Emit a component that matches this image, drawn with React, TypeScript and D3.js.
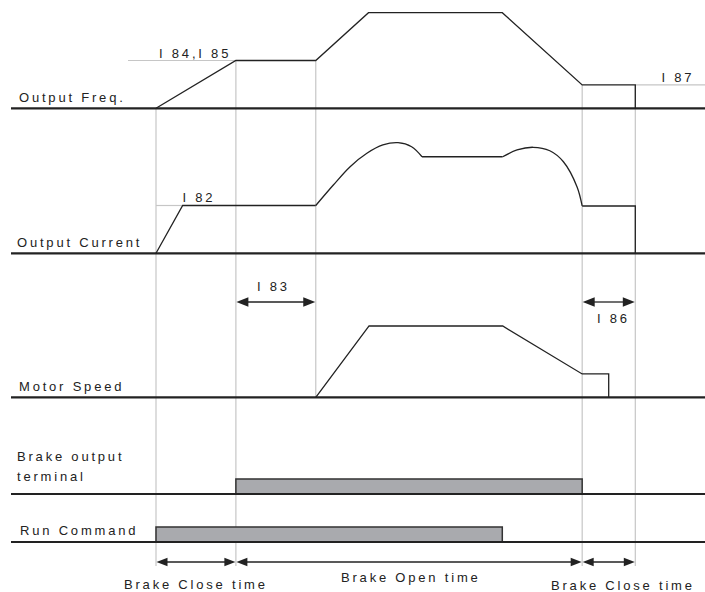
import { useEffect } from 'react';
import * as d3 from 'd3';

// time axis: 0 = run command on, 1 = brake open, 2 = accel start ... 6 = end
const guideTimes = [0, 1, 2, 5.335, 6];

// Output frequency (level: 100 = top speed)
const freqT = [0, 1, 2, 2.66, 4.335, 5.335, 6, 6];
const freqL = [0, 50, 50, 100, 100, 24.4, 24.4, 0];

// Output current, straight pieces and the two humps
const curT1 = [0, 0.334, 2.0];
const curL1 = [0, 50, 50];
const curHumpT = [2.0, 2.22, 2.43, 2.64, 2.84, 3.03, 3.2, 3.33];
const curHumpL = [50, 71.4, 90.6, 104.6, 113.3, 115.7, 111.5, 101];
const curFlatT = [3.33, 4.34];
const curFlatL = [101, 101];
const curBumpT = [4.34, 4.52, 4.72, 4.93, 5.1, 5.27, 5.335];
const curBumpL = [101, 108.1, 110.9, 107.3, 95.8, 69.7, 49.5];
const curTailT = [5.335, 6, 6];
const curTailL = [49.5, 49.5, 0];

// Motor speed
const motorT = [2, 2.667, 4.34, 5.335, 5.667, 5.667];
const motorL = [0, 74.6, 74.6, 24.4, 24.4, 0];

// digital signals [start, end]
const brakeOn = [1, 5.335];
const runOn = [0, 4.335];
const barLevel = 15.7;

const zip = (t: number[], l: number[]) => t.map((v, i) => [v, l[i]] as [number, number]);

export default function App() {
  useEffect(() => {
    document.body.style.margin = '0';
  }, []);

  const W = 705;
  const H = 592;
  const x = d3.scaleLinear().domain([0, 6]).range([156, 635.3]);
  const row = (base: number) => d3.scaleLinear().domain([0, 100]).range([base, base - 95.6]);
  const yFreq = row(108.3);
  const yCur = row(253.3);
  const yMotor = row(397.3);
  const yBrake = row(494);
  const yRun = row(542);

  const lineOf = (y: d3.ScaleLinear<number, number>, curve: d3.CurveFactory = d3.curveLinear) =>
    d3.line<[number, number]>().x(d => x(d[0])).y(d => y(d[1])).curve(curve);

  const font = "'Liberation Sans', Arial, sans-serif";
  const txt = { fontFamily: font, fontSize: 13, letterSpacing: '2.8px', fill: '#222' } as const;
  const ink = '#222';
  const guide = '#c6c6c6';
  const bottom = 566;

  const baselines = [yFreq(0), yCur(0), yMotor(0), yBrake(0), yRun(0)];

  // vertical guide tops
  const guideTop = [yFreq(0), yFreq(50), yFreq(50), yFreq(24.4), yFreq(24.4)];
  const guideBottom = [bottom, bottom, yMotor(0), bottom, bottom];

  const arrow = (t0: number, t1: number, y: number, len: number, hw: number, key: string) => {
    const a = x(t0) + 0.5;
    const b = x(t1) - 0.5;
    return (
      <g key={key}>
        <line x1={a + len - 1} x2={b - len + 1} y1={y} y2={y} stroke={ink} strokeWidth={1.3} />
        <path d={`M${a},${y}L${a + len},${y - hw}L${a + len},${y + hw}Z`} fill={ink} />
        <path d={`M${b},${y}L${b - len},${y - hw}L${b - len},${y + hw}Z`} fill={ink} />
      </g>
    );
  };

  const curve = d3.curveCatmullRom.alpha(0.5);

  return (
    <svg width={W} height={H} style={{ display: 'block', background: '#fff' }}>
      {/* guides */}
      {guideTimes.map((t, i) => (
        <line key={'g' + i} x1={x(t)} x2={x(t)} y1={guideTop[i]} y2={guideBottom[i]} stroke={guide} strokeWidth={1.2} />
      ))}
      <line x1={128} x2={x(1)} y1={yFreq(50)} y2={yFreq(50)} stroke={guide} strokeWidth={1.2} />
      <line x1={x(6)} x2={W} y1={yFreq(24.4)} y2={yFreq(24.4)} stroke={guide} strokeWidth={1.2} />
      <line x1={x(0)} x2={x(0.334)} y1={yCur(50)} y2={yCur(50)} stroke={guide} strokeWidth={1.2} />

      {/* bars */}
      <rect x={x(brakeOn[0])} y={yBrake(barLevel)} width={x(brakeOn[1]) - x(brakeOn[0])} height={yBrake(0) - yBrake(barLevel)}
        fill="#a9aaae" stroke="#333" strokeWidth={1.5} />
      <rect x={x(runOn[0])} y={yRun(barLevel)} width={x(runOn[1]) - x(runOn[0])} height={yRun(0) - yRun(barLevel)}
        fill="#a9aaae" stroke="#333" strokeWidth={1.5} />

      {/* baselines */}
      {baselines.map((b, i) => (
        <line key={'b' + i} x1={11} x2={W} y1={b} y2={b} stroke={ink} strokeWidth={2.2} />
      ))}

      {/* signals */}
      <g fill="none" stroke={ink} strokeWidth={1.3}>
        <path d={lineOf(yFreq)(zip(freqT, freqL)) || ''} />
        <path d={lineOf(yCur)(zip(curT1, curL1)) || ''} />
        <path d={lineOf(yCur, curve)(zip(curHumpT, curHumpL)) || ''} />
        <path d={lineOf(yCur)(zip(curFlatT, curFlatL)) || ''} />
        <path d={lineOf(yCur, curve)(zip(curBumpT, curBumpL)) || ''} />
        <path d={lineOf(yCur)(zip(curTailT, curTailL)) || ''} />
        <path d={lineOf(yMotor)(zip(motorT, motorL)) || ''} />
      </g>

      {/* arrows */}
      {arrow(1, 2, 302, 12, 4.7, 'a83')}
      {arrow(5.335, 6, 302, 12, 4.7, 'a86')}
      {arrow(0, 1, 562, 11, 4.2, 'c1')}
      {arrow(1, 5.335, 562, 11, 4.2, 'o1')}
      {arrow(5.335, 6, 562, 11, 4.2, 'c2')}

      {/* labels */}
      <text x={19} y={102} style={txt}>Output Freq.</text>
      <text x={159} y={58} style={txt}>I 84,I 85</text>
      <text x={661.5} y={82} style={txt}>I 87</text>
      <text x={17} y={246.7} style={txt}>Output Current</text>
      <text x={182.5} y={201.7} style={txt}>I 82</text>
      <text x={257} y={290.7} style={txt}>I 83</text>
      <text x={597} y={322.7} style={txt}>I 86</text>
      <text x={19} y={390.5} style={txt}>Motor Speed</text>
      <text x={17} y={461} style={txt}>Brake output</text>
      <text x={17} y={481} style={txt}>terminal</text>
      <text x={20} y={535} style={txt}>Run Command</text>
      <text x={124} y={589} style={txt}>Brake Close time</text>
      <text x={341} y={582} style={txt}>Brake Open time</text>
      <text x={551} y={590} style={txt}>Brake Close time</text>
    </svg>
  );
}
